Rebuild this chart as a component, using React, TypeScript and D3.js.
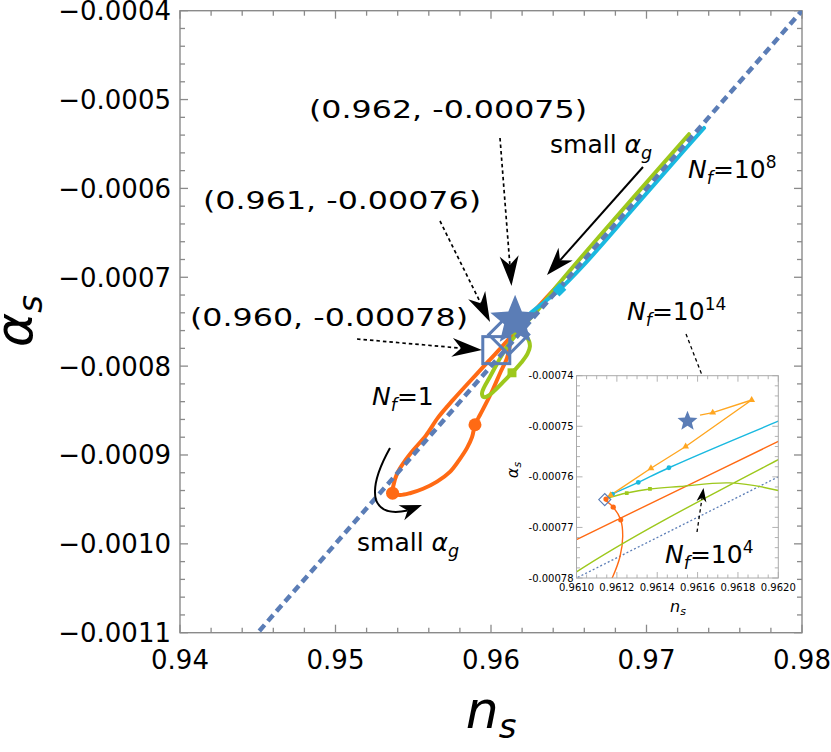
import React from 'react';
import * as d3 from 'd3';

type P = [number, number];

// ---------- axis ticks ----------
const X_TICKS = [0.94, 0.95, 0.96, 0.97, 0.98];
const X_TICK_LABELS = ['0.94', '0.95', '0.96', '0.97', '0.98'];
const Y_TICKS = [-0.0004, -0.0005, -0.0006, -0.0007, -0.0008, -0.0009, -0.001, -0.0011];
const Y_TICK_LABELS = ['\u22120.0004', '\u22120.0005', '\u22120.0006', '\u22120.0007', '\u22120.0008', '\u22120.0009', '\u22120.0010', '\u22120.0011'];
const INSET_X_TICKS = [0.961, 0.9612, 0.9614, 0.9616, 0.9618, 0.962];
const INSET_X_LABELS = ['0.9610', '0.9612', '0.9614', '0.9616', '0.9618', '0.9620'];
const INSET_Y_TICKS = [-0.00074, -0.00075, -0.00076, -0.00077, -0.00078];
const INSET_Y_LABELS = ['-0.00074', '-0.00075', '-0.00076', '-0.00077', '-0.00078'];

// ---------- series ----------
const REF_LINE: P[] = [[0.944, -0.00112], [0.981, -0.00038]];

const NF1_CURVE: P[] = [
  [0.961138, -0.0007645], [0.961182, -0.000766], [0.961219, -0.0007685], [0.961229, -0.0007718],
  [0.961216, -0.0007757], [0.961179, -0.0007798], [0.96103, -0.000791], [0.96058, -0.000808],
  [0.96013, -0.000826], [0.95968, -0.000842], [0.95929, -0.000855], [0.95897, -0.000866],
  [0.95878, -0.00088], [0.95846, -0.000892], [0.95794, -0.000906], [0.95736, -0.000919],
  [0.95653, -0.00093], [0.95563, -0.000938], [0.95479, -0.000943], [0.95415, -0.000945],
  [0.95367, -0.000943], [0.95373, -0.000934], [0.95396, -0.000921], [0.95441, -0.000908],
  [0.95498, -0.000895], [0.95582, -0.000878], [0.95659, -0.000858], [0.95756, -0.000838],
  [0.95865, -0.000817], [0.95981, -0.000795], [0.9607, -0.0007783], [0.961, -0.0007724],
  [0.962, -0.000753], [0.9632, -0.00073], [0.9643, -0.000709],
];
const GREEN_CURVE: P[] = [
  [0.961153, -0.0007642], [0.961249, -0.0007632], [0.961364, -0.0007624], [0.961513, -0.0007619],
  [0.961761, -0.0007612], [0.962, -0.0007627], [0.96225, -0.000766], [0.96245, -0.000772],
  [0.9625, -0.000778], [0.96235, -0.000786], [0.96195, -0.000796], [0.96154, -0.000804],
  [0.96116, -0.000811], [0.96077, -0.000818], [0.96032, -0.000826], [0.95985, -0.000833],
  [0.95955, -0.000835], [0.95942, -0.000831], [0.95955, -0.000824], [0.9599, -0.000813],
  [0.9604, -0.000797], [0.961, -0.0007788], [0.962, -0.0007566], [0.963, -0.000737],
  [0.9644, -0.0007065], [0.967, -0.0006533], [0.9696, -0.0006013], [0.97273, -0.000539],
];
const CYAN_CURVE: P[] = [
  [0.961158, -0.0007639], [0.961179, -0.0007634], [0.961306, -0.0007611], [0.961458, -0.0007582],
  [0.962, -0.000749], [0.9625, -0.000741], [0.9635, -0.000727], [0.9644, -0.000714],
  [0.966, -0.0006855], [0.969, -0.0006257], [0.9715, -0.0005755], [0.9737, -0.000532],
];
const ORANGE_CURVE: P[] = [
  [0.961153, -0.0007639], [0.961169, -0.0007636], [0.961369, -0.0007583], [0.961541, -0.000754],
  [0.961868, -0.0007448], [0.961675, -0.0007473], [0.961612, -0.0007478],
];

// ---------- markers ----------
const STAR_POINT: P = [0.96155, -0.000749];
const SQUARE_POINT: P = [0.96034, -0.000782];
const DIAMOND_POINT: P = [0.96114, -0.0007645];
const NF1_DOTS_MAIN: P[] = [[0.95367, -0.000943], [0.95897, -0.000866]];
const GREEN_SQUARES_MAIN: P[] = [[0.96135, -0.0008075]];
const CYAN_SQUARES_MAIN: P[] = [[0.9644, -0.000714]];
const NF1_DOTS_INSET: P[] = [[0.961146, -0.0007644], [0.961182, -0.000766], [0.961219, -0.0007685]];
const GREEN_SQUARES_INSET: P[] = [[0.961249, -0.0007632], [0.961364, -0.0007624]];
const CYAN_DOTS_INSET: P[] = [[0.961179, -0.0007634], [0.961306, -0.0007611], [0.961458, -0.0007582]];
const ORANGE_TRIANGLES_INSET: P[] = [[0.961169, -0.0007636], [0.961369, -0.0007583], [0.961541, -0.000754], [0.961868, -0.0007448], [0.961675, -0.0007473]];

// ---------- layout / style ----------
const W = 831, H = 752;
const M = { left: 180, right: 802, top: 10.7, bottom: 632.7 };
const IN = { left: 576.5, right: 778.3, top: 375.7, bottom: 578 };
const C_RED = '#ff6a14';
const C_GREEN = '#9dc81c';
const C_CYAN = '#19b9e0';
const C_ORANGE = '#ffa620';
const C_BLUE = '#5b7db6';
const FONT = "'DejaVu Sans', sans-serif";

const x = d3.scaleLinear().domain([0.94, 0.98]).range([M.left, M.right]);
const y = d3.scaleLinear().domain([-0.0011, -0.0004]).range([M.bottom, M.top]);
const xi = d3.scaleLinear().domain([0.961, 0.962]).range([IN.left, IN.right]);
const yi = d3.scaleLinear().domain([-0.00078, -0.00074]).range([IN.bottom, IN.top]);

function starPath(cx: number, cy: number, R: number, r: number) {
  const pts: string[] = [];
  for (let i = 0; i < 10; i++) {
    const a = (-90 + i * 36) * Math.PI / 180;
    const rr = i % 2 === 0 ? R : r;
    pts.push(`${cx + rr * Math.cos(a)},${cy + rr * Math.sin(a)}`);
  }
  return 'M' + pts.join('L') + 'Z';
}

function arrowHead(sx: number, sy: number, tx: number, ty: number, L: number, Wd: number) {
  const dx = tx - sx, dy = ty - sy;
  const len = Math.hypot(dx, dy);
  const ux = dx / len, uy = dy / len;
  const nx = -uy, ny = ux;
  const bx = tx - L * ux, by = ty - L * uy;
  const kx = tx - 0.7 * L * ux, ky = ty - 0.7 * L * uy;
  return {
    d: `M${tx},${ty}L${bx + Wd * nx},${by + Wd * ny}L${kx},${ky}L${bx - Wd * nx},${by - Wd * ny}Z`,
    nx: kx, ny: ky,
  };
}

function Arrow({ sx, sy, tx, ty, L, Wd, dotted, sw }: { sx: number; sy: number; tx: number; ty: number; L: number; Wd: number; dotted?: boolean; sw?: number }) {
  const h = arrowHead(sx, sy, tx, ty, L, Wd);
  return (
    <g>
      <line x1={sx} y1={sy} x2={h.nx} y2={h.ny} stroke="#000" strokeWidth={sw ?? (dotted ? 1.7 : 2)} strokeDasharray={dotted ? '3.5,3' : undefined} />
      <path d={h.d} fill="#000" />
    </g>
  );
}

function NfLabel({ x0, y0, rest, sup, size }: { x0: number; y0: number; rest: string; sup?: string; size: number }) {
  return (
    <text x={x0} y={y0} fontFamily={FONT} fontSize={size} fill="#000">
      <tspan fontStyle="italic">N</tspan>
      <tspan fontStyle="italic" fontSize={size * 0.7} dy={size * 0.25}>f</tspan>
      <tspan dy={-size * 0.25}>{rest}</tspan>
      {sup ? <tspan fontSize={size * 0.68} dy={-size * 0.42}>{sup}</tspan> : null}
    </text>
  );
}

function SmallAlpha({ x0, y0, size }: { x0: number; y0: number; size: number }) {
  return (
    <text x={x0} y={y0} fontFamily={FONT} fontSize={size} fill="#000">
      small <tspan fontStyle="italic">α</tspan>
      <tspan fontStyle="italic" fontSize={size * 0.7} dy={size * 0.22}>g</tspan>
    </text>
  );
}

export default function App() {
  const lineMain = d3.line<P>().x(d => x(d[0])).y(d => y(d[1])).curve(d3.curveCatmullRom.alpha(0.5));
  const lineMainLin = d3.line<P>().x(d => x(d[0])).y(d => y(d[1]));
  const lineIn = d3.line<P>().x(d => xi(d[0])).y(d => yi(d[1])).curve(d3.curveCatmullRom.alpha(0.5));
  const lineInLin = d3.line<P>().x(d => xi(d[0])).y(d => yi(d[1]));

  const xMinor = d3.range(0.94, 0.98001, 0.002);
  const yMinor = d3.range(-0.0011, -0.00039999, 0.00002);
  const xiMinor = d3.range(0.961, 0.962001, 0.00005);
  const yiMinor = d3.range(-0.00078, -0.00073999, 0.000002);

  const isMajor = (v: number, arr: number[], eps: number) => arr.some(t => Math.abs(t - v) < eps);

  const tri = d3.symbol().type(d3.symbolTriangle).size(20)() as string;
  const sqIn = d3.symbol().type(d3.symbolSquare).size(14)() as string;
  const sqMain = d3.symbol().type(d3.symbolSquare).size(80)() as string;
  const sqCyan = d3.symbol().type(d3.symbolSquare).size(95)() as string;

  const tickColor = '#8a8a8a';
  const inTickColor = '#aaaaaa';

  const sx = x(STAR_POINT[0]), sy = y(STAR_POINT[1]);
  const qx = x(SQUARE_POINT[0]), qy = y(SQUARE_POINT[1]);
  const dx = x(DIAMOND_POINT[0]), dy = y(DIAMOND_POINT[1]);

  const curvedHead = arrowHead(401, 513, 422, 505, 22, 8);

  return (
    <svg width={W} height={H} viewBox={`0 0 ${W} ${H}`} style={{ position: 'absolute', left: 0, top: 0, display: 'block', background: '#fff' }}>
      <defs>
        <clipPath id="mainClip"><rect x={M.left} y={M.top} width={M.right - M.left} height={M.bottom - M.top} /></clipPath>
        <clipPath id="inClip"><rect x={IN.left} y={IN.top} width={IN.right - IN.left} height={IN.bottom - IN.top} /></clipPath>
      </defs>
      <rect x={0} y={0} width={W} height={H} fill="#fff" />

      {/* main frame */}
      <rect x={M.left} y={M.top} width={M.right - M.left} height={M.bottom - M.top} fill="none" stroke={tickColor} strokeWidth={1.4} />
      {xMinor.map((v, i) => {
        const len = isMajor(v, X_TICKS, 1e-6) ? 8 : 5;
        const px = x(v);
        return (
          <g key={'xm' + i}>
            <line x1={px} x2={px} y1={M.bottom} y2={M.bottom - len} stroke={tickColor} strokeWidth={1.3} />
            <line x1={px} x2={px} y1={M.top} y2={M.top + len} stroke={tickColor} strokeWidth={1.3} />
          </g>
        );
      })}
      {yMinor.map((v, i) => {
        const len = isMajor(v, Y_TICKS, 1e-9) ? 8 : 5;
        const py = y(v);
        return (
          <g key={'ym' + i}>
            <line x1={M.left} x2={M.left + len} y1={py} y2={py} stroke={tickColor} strokeWidth={1.3} />
            <line x1={M.right} x2={M.right - len} y1={py} y2={py} stroke={tickColor} strokeWidth={1.3} />
          </g>
        );
      })}
      {X_TICKS.map((v, i) => (
        <text key={'xl' + i} x={x(v)} y={669} textAnchor="middle" fontFamily={FONT} fontSize={26} fill="#000">{X_TICK_LABELS[i]}</text>
      ))}
      {Y_TICKS.map((v, i) => (
        <text key={'yl' + i} x={171} y={y(v) + 9.5} textAnchor="end" fontFamily={FONT} fontSize={26} fill="#000">{Y_TICK_LABELS[i]}</text>
      ))}

      {/* axis labels */}
      <text x={491} y={728} textAnchor="middle" fontFamily={FONT} fontSize={52} fontStyle="italic" fill="#000">
        n<tspan fontSize={34} dy={10}>s</tspan>
      </text>
      <text transform="translate(32,321) rotate(-90)" textAnchor="middle" fontFamily={FONT} fontSize={52} fontStyle="italic" fill="#000">
        α<tspan fontSize={34} dy={10}>s</tspan>
      </text>

      {/* main curves */}
      <g clipPath="url(#mainClip)" fill="none" strokeLinecap="round" strokeLinejoin="round">
        <path d={lineMain(NF1_CURVE) as string} stroke={C_RED} strokeWidth={4} />
        <path d={lineMain(GREEN_CURVE) as string} stroke={C_GREEN} strokeWidth={4} />
        <path d={lineMain(CYAN_CURVE) as string} stroke={C_CYAN} strokeWidth={4} />
        <path d={lineMainLin(ORANGE_CURVE) as string} stroke={C_ORANGE} strokeWidth={4} />
        <path d={lineMainLin(REF_LINE) as string} stroke={C_BLUE} strokeWidth={4.5} strokeDasharray="8,5" strokeLinecap="butt" />
      </g>
      {NF1_DOTS_MAIN.map((p, i) => <circle key={'nd' + i} cx={x(p[0])} cy={y(p[1])} r={6.5} fill={C_RED} />)}
      {GREEN_SQUARES_MAIN.map((p, i) => <path key={'gs' + i} d={sqMain} transform={`translate(${x(p[0])},${y(p[1])})`} fill={C_GREEN} />)}
      {CYAN_SQUARES_MAIN.map((p, i) => <path key={'cs' + i} d={sqCyan} transform={`translate(${x(p[0])},${y(p[1])}) rotate(45)`} fill={C_CYAN} />)}

      {/* open square, diamond, star */}
      <rect x={qx - 13.5} y={qy - 13.5} width={27} height={27} fill="none" stroke={C_BLUE} strokeWidth={3} />
      <path d={`M${dx - 20},${dy}L${dx},${dy - 20}L${dx + 20},${dy}L${dx},${dy + 20}Z`} fill="none" stroke={C_BLUE} strokeWidth={3} />
      <path d={starPath(sx, sy, 26, 11.5)} fill={C_BLUE} />

      {/* annotations */}
      <text x={309} y={118} fontFamily={FONT} fontSize={25} textLength={278} lengthAdjust="spacingAndGlyphs" fill="#000">(0.962, -0.00075)</text>
      <text x={203} y={209} fontFamily={FONT} fontSize={25} textLength={278} lengthAdjust="spacingAndGlyphs" fill="#000">(0.961, -0.00076)</text>
      <text x={190} y={326} fontFamily={FONT} fontSize={25} textLength={278} lengthAdjust="spacingAndGlyphs" fill="#000">(0.960, -0.00078)</text>

      <Arrow sx={500} sy={138} tx={511.5} ty={286} L={30} Wd={9.5} dotted />
      <Arrow sx={440} sy={221} tx={490} ty={322} L={30} Wd={9.5} dotted />
      <Arrow sx={357} sy={339} tx={482} ty={350} L={30} Wd={9.5} dotted />
      <Arrow sx={643} sy={167} tx={547} ty={275} L={28} Wd={9.5} />
      <Arrow sx={686} sy={334} tx={712} ty={401} L={14} Wd={5} dotted sw={1.3} />

      <path d={`M390,448 Q371,482 376,500 Q382,516 ${curvedHead.nx},${curvedHead.ny}`} fill="none" stroke="#000" strokeWidth={2} />
      <path d={curvedHead.d} fill="#000" />

      <SmallAlpha x0={550} y0={153} size={25} />
      <SmallAlpha x0={357} y0={551} size={25} />
      <NfLabel x0={688} y0={178} rest="=10" sup="8" size={25} />
      <NfLabel x0={627} y0={320} rest="=10" sup="14" size={25} />
      <NfLabel x0={372} y0={405} rest="=1" size={25} />

      {/* inset */}
      <rect x={IN.left} y={IN.top} width={IN.right - IN.left} height={IN.bottom - IN.top} fill="#fff" />
      <g clipPath="url(#inClip)" fill="none" strokeLinejoin="round">
        <path d={lineInLin(REF_LINE) as string} stroke={C_BLUE} strokeWidth={1.3} strokeDasharray="2,2.2" />
        <path d={lineIn(NF1_CURVE) as string} stroke={C_RED} strokeWidth={1.4} />
        <path d={lineIn(GREEN_CURVE) as string} stroke={C_GREEN} strokeWidth={1.4} />
        <path d={lineIn(CYAN_CURVE) as string} stroke={C_CYAN} strokeWidth={1.4} />
        <path d={lineInLin(ORANGE_CURVE) as string} stroke={C_ORANGE} strokeWidth={1.4} />
      </g>
      <g clipPath="url(#inClip)">
        {NF1_DOTS_INSET.map((p, i) => <circle key={'ni' + i} cx={xi(p[0])} cy={yi(p[1])} r={2.6} fill={C_RED} />)}
        {GREEN_SQUARES_INSET.map((p, i) => <path key={'gi' + i} d={sqIn} transform={`translate(${xi(p[0])},${yi(p[1])})`} fill={C_GREEN} />)}
        {CYAN_DOTS_INSET.map((p, i) => <circle key={'ci' + i} cx={xi(p[0])} cy={yi(p[1])} r={2.4} fill={C_CYAN} />)}
        {ORANGE_TRIANGLES_INSET.map((p, i) => <path key={'oi' + i} d={tri} transform={`translate(${xi(p[0])},${yi(p[1])})`} fill={C_ORANGE} />)}
        <path d={`M${xi(DIAMOND_POINT[0]) - 6},${yi(DIAMOND_POINT[1])}L${xi(DIAMOND_POINT[0])},${yi(DIAMOND_POINT[1]) - 6}L${xi(DIAMOND_POINT[0]) + 6},${yi(DIAMOND_POINT[1])}L${xi(DIAMOND_POINT[0])},${yi(DIAMOND_POINT[1]) + 6}Z`} fill="none" stroke={C_BLUE} strokeWidth={1.2} />
        <path d={starPath(xi(STAR_POINT[0]), yi(STAR_POINT[1]), 10.5, 4.6)} fill={C_BLUE} />
      </g>
      <rect x={IN.left} y={IN.top} width={IN.right - IN.left} height={IN.bottom - IN.top} fill="none" stroke={inTickColor} strokeWidth={1} />
      {xiMinor.map((v, i) => {
        const len = isMajor(v, INSET_X_TICKS, 1e-8) ? 6 : 3.5;
        const px = xi(v);
        return (
          <g key={'xim' + i}>
            <line x1={px} x2={px} y1={IN.bottom} y2={IN.bottom - len} stroke={inTickColor} strokeWidth={0.9} />
            <line x1={px} x2={px} y1={IN.top} y2={IN.top + len} stroke={inTickColor} strokeWidth={0.9} />
          </g>
        );
      })}
      {yiMinor.map((v, i) => {
        const len = isMajor(v, INSET_Y_TICKS, 1e-10) ? 6 : 3.5;
        const py = yi(v);
        return (
          <g key={'yim' + i}>
            <line x1={IN.left} x2={IN.left + len} y1={py} y2={py} stroke={inTickColor} strokeWidth={0.9} />
            <line x1={IN.right} x2={IN.right - len} y1={py} y2={py} stroke={inTickColor} strokeWidth={0.9} />
          </g>
        );
      })}
      {INSET_X_TICKS.map((v, i) => (
        <text key={'xil' + i} x={xi(v)} y={591} textAnchor="middle" fontFamily={FONT} fontSize={10} fill="#000">{INSET_X_LABELS[i]}</text>
      ))}
      {INSET_Y_TICKS.map((v, i) => (
        <text key={'yil' + i} x={573.5} y={yi(v) + 3.6} textAnchor="end" fontFamily={FONT} fontSize={10} fill="#000">{INSET_Y_LABELS[i]}</text>
      ))}
      <text x={678} y={612} textAnchor="middle" fontFamily={FONT} fontSize={16} fontStyle="italic" fill="#000">
        n<tspan fontSize={11} dy={3}>s</tspan>
      </text>
      <text transform="translate(518,470) rotate(-90)" textAnchor="middle" fontFamily={FONT} fontSize={16} fontStyle="italic" fill="#000">
        α<tspan fontSize={11} dy={3}>s</tspan>
      </text>

      <Arrow sx={697} sy={532} tx={703.5} ty={488} L={14} Wd={5} dotted sw={1.3} />
      <NfLabel x0={665} y0={563} rest="=10" sup="4" size={25} />
    </svg>
  );
}
